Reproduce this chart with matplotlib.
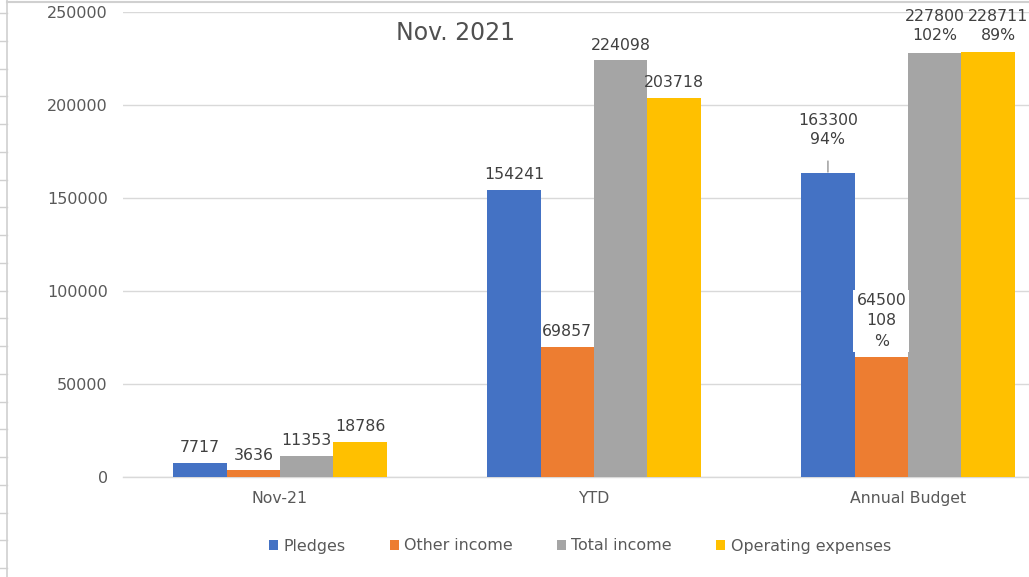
import matplotlib
matplotlib.use("Agg")
import matplotlib.pyplot as plt
from matplotlib.lines import Line2D
import numpy as np

categories = ["Nov-21", "YTD", "Annual Budget"]
series_names = ["Pledges", "Other income", "Total income", "Operating expenses"]
pledges = [7717, 154241, 163300]
other_income = [3636, 69857, 64500]
total_income = [11353, 224098, 227800]
operating_expenses = [18786, 203718, 228711]
budget_pct = ["94%", "108\n%", "102%", "89%"]
y_ticks = [0, 50000, 100000, 150000, 200000, 250000]
title = "Nov. 2021"

colors = ["#4472C4", "#ED7D31", "#A5A5A5", "#FFC000"]
txt = "#595959"
lbl = "#404040"

W, H = 1029, 577
fig = plt.figure(figsize=(W / 100, H / 100), dpi=100)
fig.patch.set_facecolor("white")

def fx(px):
    return px / W

def fy(py):
    return 1 - py / H

ax = fig.add_axes([fx(123), fy(477), fx(1065) - fx(123), (465) / H])
ax.set_xlim(-0.5, 2.5)
ax.set_ylim(0, 250000)

series = [pledges, other_income, total_income, operating_expenses]
w = 0.17
x = np.arange(len(categories))
for j, (vals, c, name) in enumerate(zip(series, colors, series_names)):
    ax.bar(x + (j - 1.5) * w, vals, width=w, color=c, label=name,
           zorder=3, linewidth=0)

# Data labels
fs = 11.3
for j, vals in enumerate(series):
    for i, v in enumerate(vals):
        bx = x[i] + (j - 1.5) * w
        if i < 2:
            ax.annotate(f"{v}", (bx, v), xytext=(0, 5.5), textcoords="offset points",
                        ha="center", va="bottom", fontsize=fs, color=lbl, zorder=5,
                        annotation_clip=False)
        else:
            s = f"{v}\n{budget_pct[j]}"
            if j == 0:
                ax.annotate(s, (bx, v), xytext=(0, 31), textcoords="offset points",
                            ha="center", va="center", fontsize=fs, color=lbl, zorder=5,
                            linespacing=1.35,
                            arrowprops=dict(arrowstyle="-", color="#A6A6A6", lw=1.2,
                                            shrinkA=8, shrinkB=1),
                            annotation_clip=False)
            elif j == 1:
                ax.annotate(s, (bx, v), xytext=(0, 26), textcoords="offset points",
                            ha="center", va="center", fontsize=fs, color=lbl, zorder=5,
                            linespacing=1.45,
                            bbox=dict(boxstyle="square,pad=0.2", fc="white", ec="none"),
                            annotation_clip=False)
            else:
                dx = 7.5 if j == 3 else 0
                dy = 7.5 if j == 2 else 6
                ax.annotate(s, (bx, v), xytext=(dx, dy), textcoords="offset points",
                            ha="center", va="bottom", fontsize=fs, color=lbl, zorder=5,
                            linespacing=1.35, annotation_clip=False)

ax.set_yticks(y_ticks)
ax.set_yticklabels([str(t) for t in y_ticks])
ax.set_xticks(x)
ax.set_xticklabels(categories)
ax.tick_params(axis="y", length=0, pad=11, labelsize=11.5, labelcolor=txt)
ax.tick_params(axis="x", length=0, pad=10, labelsize=11.3, labelcolor=txt)
ax.grid(axis="y", color="#D9D9D9", lw=1, zorder=0)
ax.set_axisbelow(True)
for s in ["top", "right", "left"]:
    ax.spines[s].set_visible(False)
ax.spines["bottom"].set_color("#D9D9D9")
ax.spines["bottom"].set_linewidth(1)

fig.text(fx(455), fy(33), title, ha="center", va="center", fontsize=17,
         color="#505050")

leg = fig.legend(loc="center", bbox_to_anchor=(fx(580), fy(546)), ncol=4,
                 frameon=False, fontsize=11.4, handlelength=0.55, handleheight=0.55,
                 handletextpad=0.35, columnspacing=2.8, labelcolor=txt)

# spreadsheet frame remnants
fig.add_artist(Line2D([fx(7), fx(7)], [0, 1], color="#D0D0D0", lw=1.2,
                      transform=fig.transFigure))
fig.add_artist(Line2D([fx(7), 1], [fy(2), fy(2)], color="#D0D0D0", lw=1.5,
                      transform=fig.transFigure))
for k in range(21):
    yy = 13 + 27.75 * k
    if yy > H:
        break
    fig.add_artist(Line2D([0, fx(7)], [fy(yy), fy(yy)], color="#D0D0D0", lw=1,
                          transform=fig.transFigure))

fig.savefig("out.png", dpi=100)
